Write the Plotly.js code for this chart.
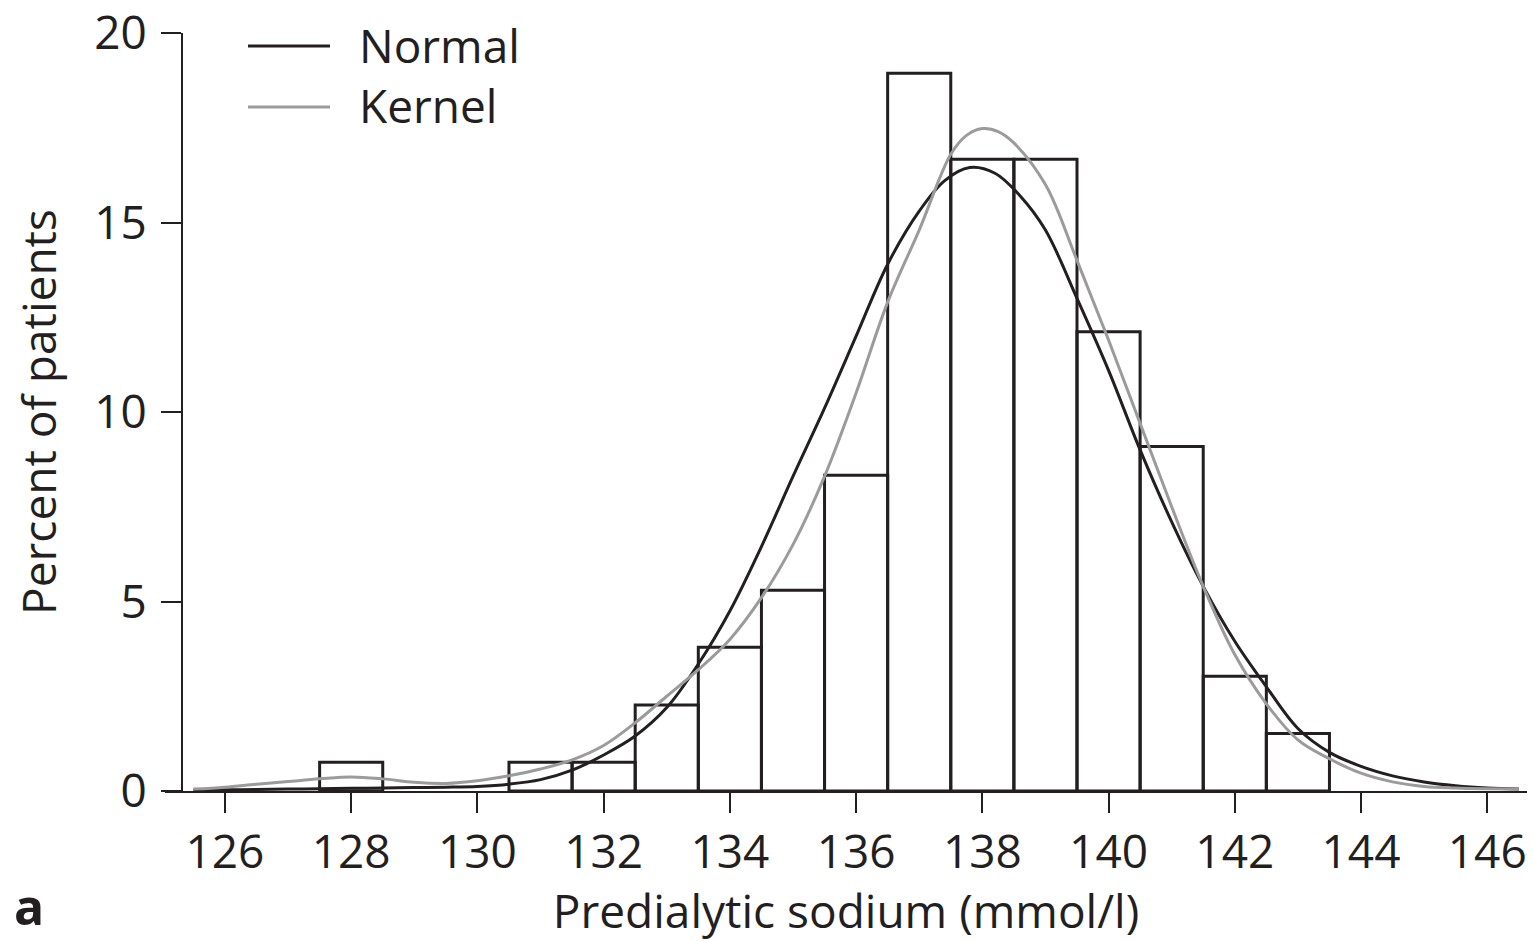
<!DOCTYPE html>
<html>
<head>
<meta charset="utf-8">
<script src="https://cdn.plot.ly/plotly-3.0.1.min.js"></script>
<style>
  html, body { margin: 0; padding: 0; background: #fff; }
  #chart { width: 1533px; height: 941px; }
</style>
</head>
<body>
<div id="chart"></div>
<script>
// Histogram bins (bin centre, mmol/l) and percent of patients
const binCenters = [128, 131, 132, 133, 134, 135, 136, 137, 138, 139, 140, 141, 142, 143];
const binPercent = [0.76, 0.76, 0.76, 2.27, 3.79, 5.30, 8.33, 18.94, 16.67, 16.67, 12.12, 9.09, 3.03, 1.52];

// Fitted normal curve
const normalX = [125.5, 126.0, 126.5, 127.0, 127.5, 128.0, 128.5, 129.0, 129.5, 130.0, 130.5, 131.0, 131.5, 132.0, 132.5, 133.0, 133.5, 134.0, 134.5, 135.0, 135.5, 136.0, 136.5, 137.0, 137.4, 137.8, 138.2, 138.6, 139.0, 139.5, 140.0, 140.5, 141.0, 141.5, 142.0, 142.5, 143.0, 143.5, 144.0, 144.5, 145.0, 145.5, 146.0, 146.5];
const normalY = [0.02, 0.03, 0.04, 0.05, 0.06, 0.07, 0.08, 0.09, 0.10, 0.12, 0.18, 0.30, 0.55, 0.95, 1.45, 2.20, 3.35, 4.75, 6.45, 8.30, 10.10, 12.00, 13.90, 15.30, 16.10, 16.45, 16.30, 15.70, 14.80, 13.00, 11.10, 9.00, 7.10, 5.40, 3.95, 2.75, 1.65, 1.02, 0.65, 0.40, 0.24, 0.14, 0.08, 0.05];

// Kernel density estimate
const kernelX = [125.5, 126.0, 126.5, 127.0, 127.5, 128.0, 128.5, 129.0, 129.5, 130.0, 130.5, 131.0, 131.5, 132.0, 132.5, 133.0, 133.5, 134.0, 134.5, 135.0, 135.5, 136.0, 136.5, 137.0, 137.5, 137.75, 138.0, 138.25, 138.5, 139.0, 139.5, 140.0, 140.5, 141.0, 141.5, 142.0, 142.5, 143.0, 143.5, 144.0, 144.5, 145.0, 145.5, 146.0, 146.5];
const kernelY = [0.05, 0.10, 0.18, 0.25, 0.32, 0.37, 0.32, 0.23, 0.20, 0.27, 0.40, 0.58, 0.82, 1.20, 1.80, 2.50, 3.20, 4.00, 5.10, 6.50, 8.30, 10.50, 12.90, 14.80, 16.80, 17.30, 17.48, 17.40, 17.10, 16.00, 14.00, 11.90, 9.70, 7.50, 5.40, 3.60, 2.30, 1.35, 0.85, 0.47, 0.24, 0.12, 0.08, 0.06, 0.05];

const xTicks = [126, 128, 130, 132, 134, 136, 138, 140, 142, 144, 146];
const yTicks = [0, 5, 10, 15, 20];

const ink = '#231f20';
const grey = '#9b9b9b';
const fontFam = '"Open Sans", "Noto Sans", sans-serif';

const traces = [
  {
    type: 'bar', x: binCenters, y: binPercent, width: 1,
    marker: { color: 'rgba(255,255,255,0)', line: { color: ink, width: 3 } },
    showlegend: false, hoverinfo: 'x+y'
  },
  {
    type: 'scatter', mode: 'lines', name: 'Normal', x: normalX, y: normalY,
    line: { color: ink, width: 3, shape: 'spline', smoothing: 1 }, showlegend: false
  },
  {
    type: 'scatter', mode: 'lines', name: 'Kernel', x: kernelX, y: kernelY,
    line: { color: grey, width: 3, shape: 'spline', smoothing: 1 }, showlegend: false
  }
];

// paper-coordinate helpers for the hand-drawn legend
const L = 165, R = 1527, T = 33, B = 791;
const px = v => (v - L) / (R - L);
const py = v => (B - v) / (B - T);

const layout = {
  width: 1533, height: 941,
  margin: { l: L, r: 1533 - R, t: T, b: 941 - B },
  paper_bgcolor: '#fff', plot_bgcolor: '#fff',
  font: { family: fontFam, size: 46, color: ink },
  bargap: 0,
  xaxis: {
    range: [125.05, 146.63], tickvals: xTicks, ticktext: xTicks.map(String),
    showline: true, linecolor: ink, linewidth: 2,
    ticks: 'outside', ticklen: 20, tickwidth: 2, tickcolor: ink,
    showgrid: false, zeroline: false, ticklabeloverflow: 'allow',
    tickfont: { size: 46, color: ink, family: fontFam },
    title: { text: 'Predialytic sodium (mmol/l)', font: { size: 46, color: ink, family: fontFam }, standoff: 14 }
  },
  yaxis: {
    range: [0, 20], tickvals: yTicks, ticktext: yTicks.map(String),
    anchor: 'free', position: (182 - L) / (R - L),
    showline: true, linecolor: ink, linewidth: 2,
    ticks: 'outside', ticklen: 20, tickwidth: 2, tickcolor: ink,
    showgrid: false, zeroline: false, ticklabeloverflow: 'allow', ticklabelstandoff: 5,
    tickfont: { size: 46, color: ink, family: fontFam },
    title: { text: 'Percent of patients', font: { size: 46, color: ink, family: fontFam }, standoff: 22 }
  },
  shapes: [
    { type: 'line', xref: 'paper', yref: 'paper', x0: px(248), x1: px(330), y0: py(46), y1: py(46), line: { color: ink, width: 3 } },
    { type: 'line', xref: 'paper', yref: 'paper', x0: px(248), x1: px(330), y0: py(107), y1: py(107), line: { color: grey, width: 3 } }
  ],
  annotations: [
    { xref: 'paper', yref: 'paper', x: px(357), y: py(45), xanchor: 'left', yanchor: 'middle', text: 'Normal', showarrow: false, font: { size: 46, color: ink, family: fontFam } },
    { xref: 'paper', yref: 'paper', x: px(357), y: py(105), xanchor: 'left', yanchor: 'middle', text: 'Kernel', showarrow: false, font: { size: 46, color: ink, family: fontFam } },
    { xref: 'paper', yref: 'paper', x: px(12), y: py(906), xanchor: 'left', yanchor: 'middle', text: '<b>a</b>', showarrow: false, font: { size: 50, color: ink, family: fontFam } }
  ]
};

Plotly.newPlot('chart', traces, layout, { staticPlot: true, displayModeBar: false });
</script>
</body>
</html>
